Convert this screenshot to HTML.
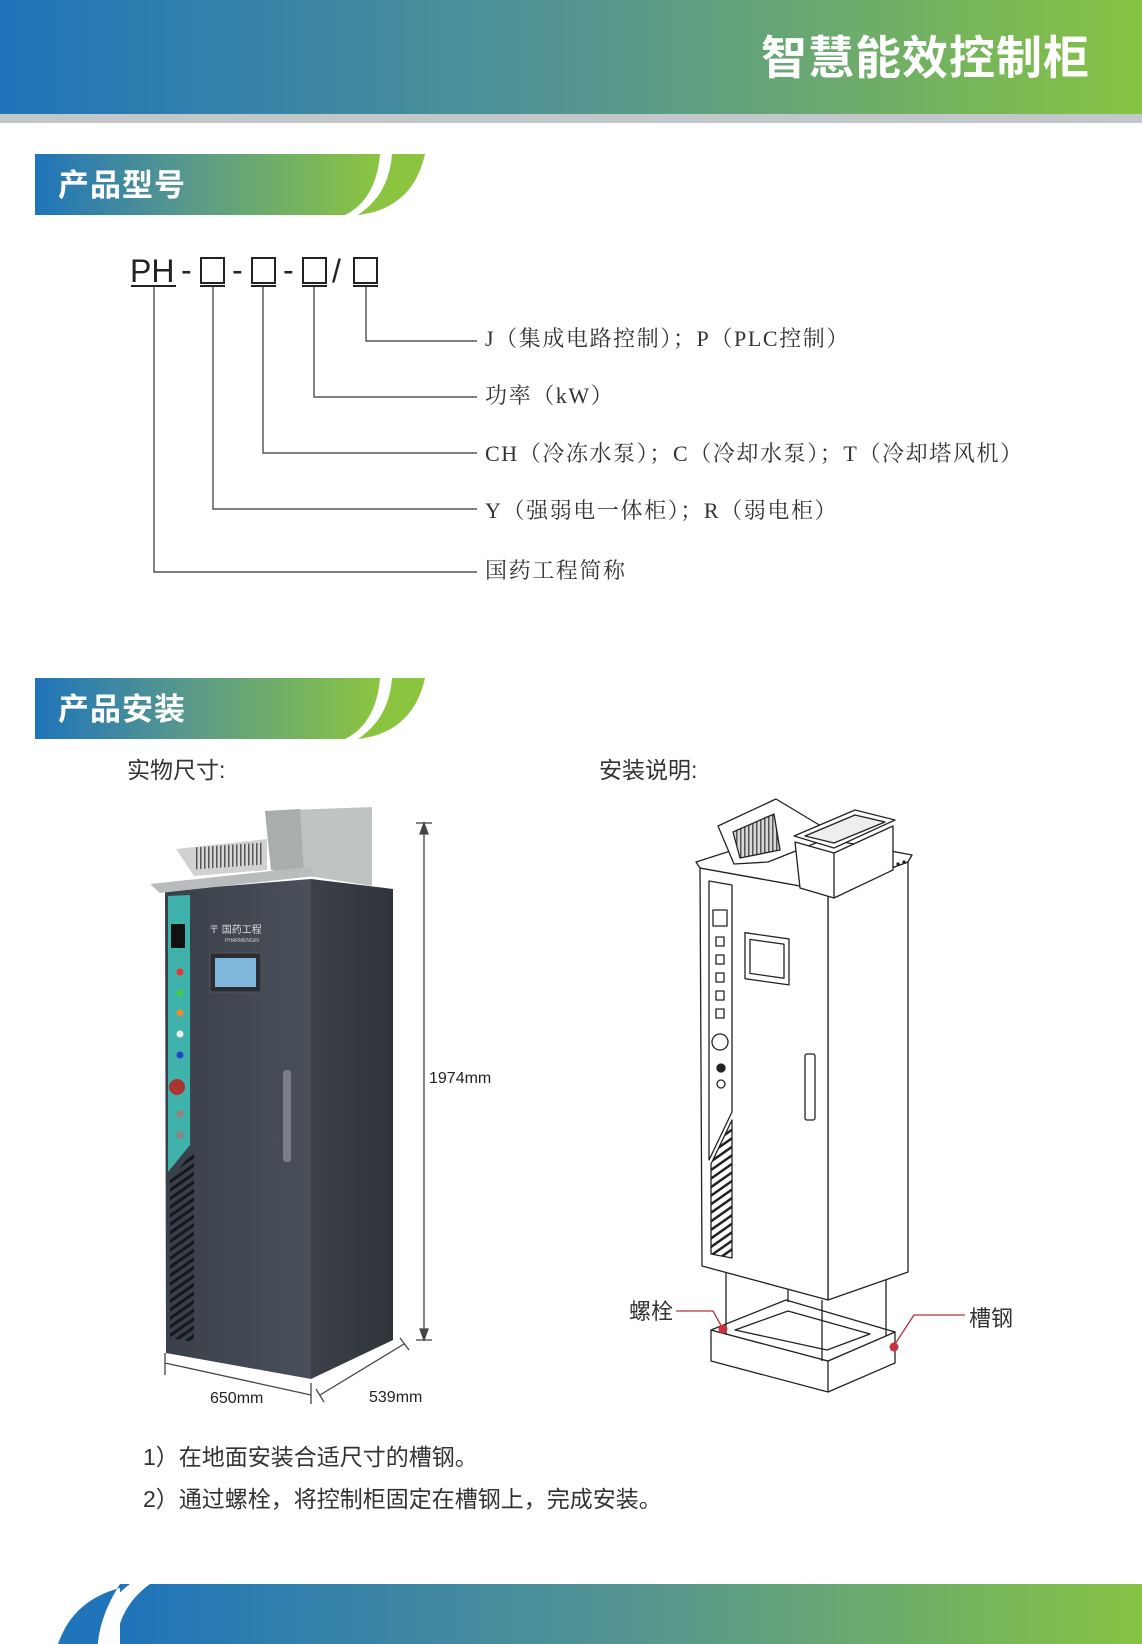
<!DOCTYPE html>
<html><head><meta charset="utf-8"><style>
html,body{margin:0;padding:0;background:#fff;}
svg{display:block;}
.cjk{font-family:"Liberation Sans","Noto Sans CJK SC",sans-serif;}
.lab{font-family:"Liberation Serif","Noto Serif CJK SC",serif;font-size:22px;fill:#333;letter-spacing:1.6px;}
</style></head><body>
<svg width="1142" height="1644" viewBox="0 0 1142 1644" xmlns="http://www.w3.org/2000/svg">
<defs>
<linearGradient id="hg" x1="0" x2="1" y1="0" y2="0"><stop offset="0" stop-color="#1f74ba"/><stop offset="0.5" stop-color="#549592"/><stop offset="1" stop-color="#86c343"/></linearGradient>
<linearGradient id="sg" x1="0" x2="1" y1="0" y2="0"><stop offset="0" stop-color="#1f74ba"/><stop offset="0.45" stop-color="#5a9a8a"/><stop offset="1" stop-color="#8bc540"/></linearGradient>
<linearGradient id="cab" x1="0" x2="1" y1="0" y2="0"><stop offset="0" stop-color="#3a404a"/><stop offset="1" stop-color="#4a505a"/></linearGradient>
<linearGradient id="side" x1="0" x2="1"><stop offset="0" stop-color="#3c4149"/><stop offset="1" stop-color="#2f333a"/></linearGradient>
<pattern id="slat" width="6" height="7" patternUnits="userSpaceOnUse" patternTransform="rotate(-35)"><rect width="6" height="7" fill="#3a3f47"/><rect width="6" height="3" fill="#15171b"/></pattern>
<pattern id="lslat" width="5" height="7" patternUnits="userSpaceOnUse" patternTransform="rotate(-35)"><rect width="5" height="7" fill="#fff"/><rect width="5" height="2.5" fill="#222"/></pattern>
<pattern id="vs" width="4" height="4" patternUnits="userSpaceOnUse"><rect width="4" height="4" fill="#d8d8d8"/><rect width="1.5" height="4" fill="#555"/></pattern>
</defs>

<rect x="0" y="0" width="1142" height="114" fill="url(#hg)"/>
<rect x="0" y="114" width="1142" height="9" fill="#c2c7ca"/>
<text x="1090" y="74" text-anchor="end" class="cjk" font-size="46" font-weight="bold" fill="#fff" letter-spacing="1">智慧能效控制柜</text>

<g>
<path d="M35 154 H380 C378 180 368 204 345 215 H35 Z" fill="url(#sg)"/>
<path d="M392 154 H425 C418 185 400 210 358 215 C380 200 390 180 392 154 Z" fill="#8bc540"/>
<text x="58" y="196" class="cjk" font-size="31" font-weight="bold" fill="#fff" letter-spacing="1">产品型号</text>
</g>

<g class="cjk" font-size="32" fill="#222">
<text x="130" y="282" font-family="Liberation Sans,sans-serif">PH</text>
<text x="181" y="281">-</text>
<rect x="201" y="258" width="23" height="25" fill="none" stroke="#222" stroke-width="2"/>
<text x="232" y="281">-</text>
<rect x="252" y="258" width="23" height="25" fill="none" stroke="#222" stroke-width="2"/>
<text x="283" y="281">-</text>
<rect x="303" y="258" width="23" height="25" fill="none" stroke="#222" stroke-width="2"/>
<text x="332" y="282">/</text>
<rect x="354" y="258" width="23" height="25" fill="none" stroke="#222" stroke-width="2"/>
</g>
<g stroke="#222" stroke-width="2">
<line x1="131" y1="286" x2="176" y2="286"/>
<line x1="200" y1="286" x2="225" y2="286"/>
<line x1="251" y1="286" x2="276" y2="286"/>
<line x1="302" y1="286" x2="327" y2="286"/>
<line x1="353" y1="286" x2="378" y2="286"/>
</g>
<g stroke="#333" stroke-width="1.2" fill="none">
<polyline points="366,286 366,341 477,341"/>
<polyline points="314,286 314,397 477,397"/>
<polyline points="263,286 263,453 477,453"/>
<polyline points="213,286 213,509 477,509"/>
<polyline points="154,286 154,572 477,572"/>
</g>
<text x="485" y="346" class="lab">J（集成电路控制）；P（PLC控制）</text>
<text x="485" y="403" class="lab">功率（kW）</text>
<text x="485" y="461" class="lab">CH（冷冻水泵）；C（冷却水泵）；T（冷却塔风机）</text>
<text x="485" y="518" class="lab">Y（强弱电一体柜）；R（弱电柜）</text>
<text x="485" y="578" class="lab">国药工程简称</text>

<g>
<path d="M35 678 H380 C378 704 368 728 345 739 H35 Z" fill="url(#sg)"/>
<path d="M392 678 H425 C418 709 400 734 358 739 C380 724 390 704 392 678 Z" fill="#8bc540"/>
<text x="58" y="720" class="cjk" font-size="31" font-weight="bold" fill="#fff" letter-spacing="1">产品安装</text>
</g>
<text x="127" y="778" class="cjk" font-size="23" fill="#333">实物尺寸:</text>
<text x="599" y="778" class="cjk" font-size="23" fill="#333">安装说明:</text>

<g>
<polygon points="265,811 372,807 372,886 271,870" fill="#bfc3c2"/>
<polygon points="265,811 300,809 304,874 271,870" fill="#a9aeac"/>
<polygon points="176,849 267,839 267,870 194,876" fill="#cfd2d1"/>
<rect x="196" y="846" width="66" height="22" fill="url(#vs)" transform="skewY(-4) translate(0,15)"/>
<polygon points="311,879 393,889 393,1340 311,1379" fill="url(#side)"/>
<polygon points="165,891 311,879 311,1379 166,1353" fill="url(#cab)"/>
<polygon points="150,884 309,867 315,876 160,893" fill="#b8bcbd"/>
<polygon points="168,896 190,895 190,1145 168,1172" fill="#3fb3ab"/>
<polygon points="170,1180 194,1150 194,1342 170,1338" fill="url(#slat)"/>
<rect x="171" y="924" width="14" height="24" fill="#111"/>
<circle cx="180" cy="972" r="3.5" fill="#e33"/>
<circle cx="180" cy="993" r="3.5" fill="#4c4"/>
<circle cx="180" cy="1013" r="3.5" fill="#e83"/>
<circle cx="180" cy="1034" r="3.5" fill="#eee"/>
<circle cx="180" cy="1055" r="3.5" fill="#24c"/>
<circle cx="177" cy="1087" r="8" fill="#a33"/>
<circle cx="180" cy="1114" r="4" fill="#888"/>
<circle cx="180" cy="1135" r="4" fill="#888"/>
<rect x="210" y="953" width="51" height="39" fill="#2a2e34" stroke="#555"/>
<rect x="215" y="958" width="41" height="29" fill="#7fb7dc"/>
<text x="209" y="933" class="cjk" font-size="10" fill="#ddd">〒 国药工程</text>
<text x="225" y="942" font-family="Liberation Sans,sans-serif" font-size="5" fill="#ccc">PHARMENGIN</text>
<rect x="283" y="1070" width="8" height="92" rx="3" fill="#7b8088"/>
</g>
<g stroke="#444" stroke-width="1.3" fill="#444">
<line x1="424" y1="823" x2="424" y2="1340"/>
<line x1="416" y1="823" x2="432" y2="823"/><line x1="416" y1="1340" x2="432" y2="1340"/>
<polygon points="424,823 420,834 428,834"/><polygon points="424,1340 420,1329 428,1329"/>
<line x1="165" y1="1353" x2="165" y2="1375"/>
<line x1="311" y1="1383" x2="311" y2="1404"/>
<line x1="165" y1="1363" x2="311" y2="1395"/>
<line x1="320" y1="1395" x2="404" y2="1344"/>
<line x1="316" y1="1389" x2="324" y2="1402"/>
<line x1="400" y1="1338" x2="409" y2="1350"/>
</g>
<g class="cjk" font-size="16" fill="#222">
<text x="429" y="1083">1974mm</text>
<text x="210" y="1403">650mm</text>
<text x="369" y="1402">539mm</text>
</g>

<g stroke="#222" stroke-width="1.3" fill="#fff" stroke-linejoin="round">
<polygon points="711,1330 828,1361 895,1332 895,1363 828,1392 711,1361" fill="#fff"/>
<polygon points="711,1330 786,1300 895,1332 828,1361"/>
<polygon points="735,1330 788,1311 870,1334 827,1350" />
<line x1="828" y1="1361" x2="828" y2="1392"/>
<line x1="726" y1="1266" x2="726" y2="1334"/>
<line x1="886" y1="1272" x2="886" y2="1336"/>
<line x1="822" y1="1300" x2="822" y2="1361"/>
<line x1="788" y1="1280" x2="788" y2="1302"/>
<polygon points="828,891 908,862 908,1272 828,1300"/>
<polygon points="700,868 828,891 828,1300 702,1266"/>
<polygon points="696,862 790,832 912,855 908,862 828,891 700,868"/>
<polygon points="709,881 732,885 732,1112 709,1160"/>
<polygon points="711,1164 732,1120 732,1258 711,1254" fill="url(#lslat)"/>
<rect x="745" y="936" width="44" height="46" transform="skewY(8) translate(0,-108)"/>
<rect x="750" y="942" width="34" height="34" transform="skewY(8) translate(0,-108)"/>
<rect x="805" y="1054" width="10" height="66" rx="2"/>
<rect x="713" y="910" width="14" height="16"/>
<g fill="#fff"><rect x="716" y="937" width="8" height="9"/><rect x="716" y="955" width="8" height="9"/><rect x="716" y="973" width="8" height="9"/><rect x="716" y="991" width="8" height="9"/><rect x="716" y="1009" width="8" height="9"/></g>
<circle cx="720" cy="1042" r="8"/>
<circle cx="721" cy="1068" r="4" fill="#222"/>
<circle cx="721" cy="1084" r="4"/>
<polygon points="718,826 776,799 836,835 768,862 734,864"/>
<polygon points="733,832 774,814 780,850 740,858" fill="url(#vs)"/>
<polygon points="795,842 834,853 893,826 893,870 834,898 800,888"/>
<line x1="834" y1="853" x2="834" y2="898"/>
<polygon points="794,836 855,810 895,820 834,848"/>
<polygon points="805,836 855,815 885,822 834,843" fill="#eee"/>
</g>
<circle cx="898" cy="864" r="1.6" fill="#222"/><circle cx="904" cy="862" r="1.6" fill="#222"/>
<g stroke="#b0343c" stroke-width="1.3" fill="none">
<polyline points="676,1311 713,1311 723,1329"/>
<polyline points="965,1315 914,1315 895,1344"/>
</g>
<circle cx="723" cy="1329" r="4.5" fill="#c8323a"/>
<circle cx="894" cy="1347" r="4.5" fill="#c8323a"/>
<text x="629" y="1319" class="cjk" font-size="22" fill="#333">螺栓</text>
<text x="969" y="1326" class="cjk" font-size="22" fill="#333">槽钢</text>

<text x="143" y="1465" class="cjk" font-size="23" fill="#333">1）在地面安装合适尺寸的槽钢。</text>
<text x="143" y="1507" class="cjk" font-size="23" fill="#333">2）通过螺栓，将控制柜固定在槽钢上，完成安装。</text>

<rect x="120" y="1584" width="1022" height="60" fill="url(#hg)"/>
<path d="M58 1644 C70 1610 95 1590 140 1584 L120 1584 C110 1600 100 1620 98 1644 Z" fill="#1f74ba"/>
<path d="M98 1644 C100 1620 110 1598 130 1584 L150 1584 C128 1600 118 1620 116 1644 Z" fill="#fff"/>
</svg>
</body></html>
